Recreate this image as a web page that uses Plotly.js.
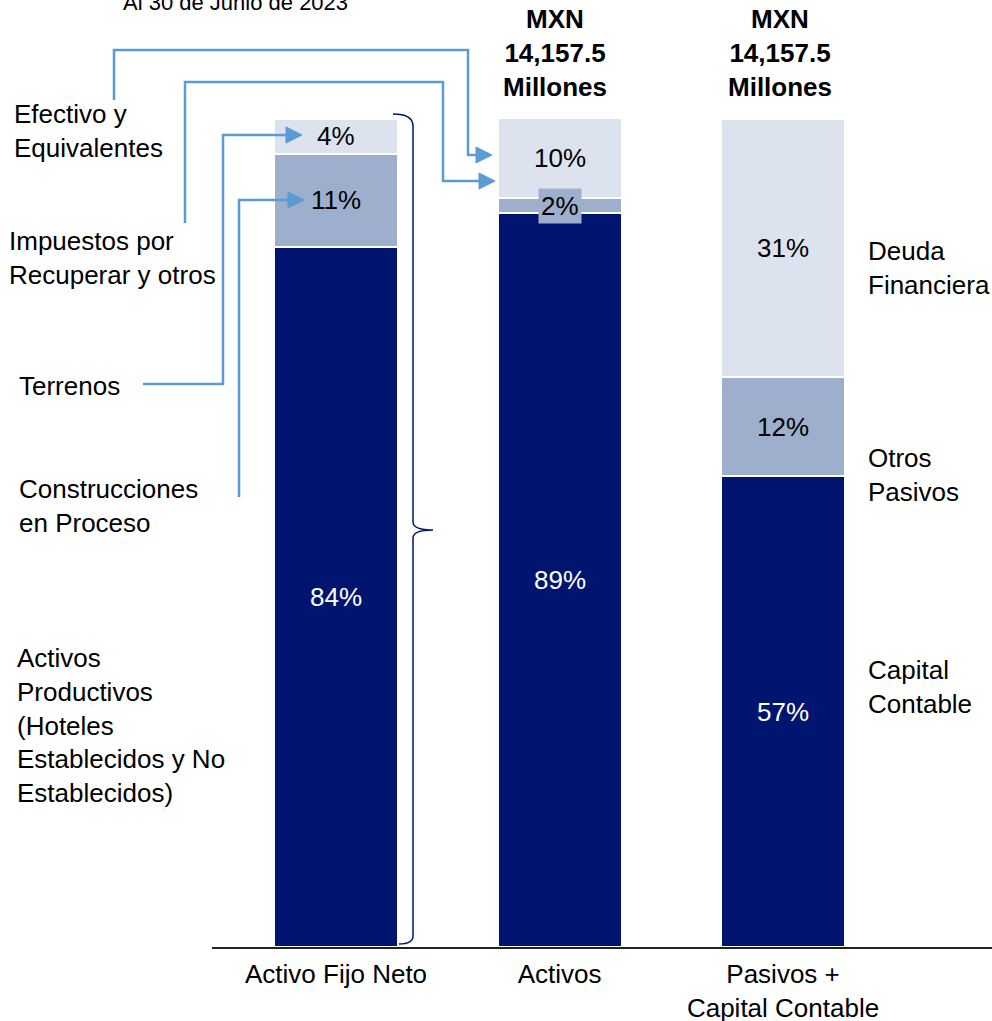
<!DOCTYPE html>
<html>
<head>
<meta charset="utf-8">
<script src="https://cdn.plot.ly/plotly-3.0.1.min.js"></script>
<style>html,body{margin:0;padding:0;background:#fff;}#chart{width:992px;height:1021px;}</style>
</head>
<body>
<div id="chart"></div>
<script>
// ---- data ----
const categories = ['Activo Fijo Neto', 'Activos', 'Pasivos + Capital Contable'];
const tickLabels = ['Activo Fijo Neto', 'Activos', 'Pasivos +<br>Capital Contable'];
const bottomVals = [84.4, 88.5, 56.8];
const middleVals = [11.3, 1.8, 11.9];
const topVals = [4.2, 9.7, 31.2];
const bottomLabels = ['84%', '89%', '57%'];
const middleLabels = ['11%', '2%', '12%'];
const topLabels = ['4%', '10%', '31%'];
const headerText = ['', 'MXN<br>14,157.5<br>Millones', 'MXN<br>14,157.5<br>Millones'];
const titleText = 'Al 30 de Junio de 2023';
const leftLabels = ['Efectivo y<br>Equivalentes', 'Impuestos por<br>Recuperar y otros', 'Terrenos',
  'Construcciones<br>en Proceso', 'Activos<br>Productivos<br>(Hoteles<br>Establecidos y No<br>Establecidos)'];
const rightLabels = ['Deuda<br>Financiera', 'Otros<br>Pasivos', 'Capital<br>Contable'];

// ---- styling ----
const FONT = '"Liberation Sans", Arial, sans-serif';
const NAVY = '#001470', MID = '#9dafcc', LIGHT = '#dde3ee', BLUE = '#5b9bd5';
const L = 212, T = 118, W = 780, H = 829;
const px = p => (p - L) / W;
const py = p => (T + H - p) / H;
const pt = (x, y) => px(x).toFixed(5) + ',' + py(y).toFixed(5);
const poly = pts => 'M ' + pts.map(p => pt(p[0], p[1])).join(' L ');

function bar(vals, color) {
  return {type: 'bar', x: categories, y: vals, marker: {color: color, line: {color: '#fff', width: 2}},
    hoverinfo: 'skip', showlegend: false};
}
const data = [bar(bottomVals, NAVY), bar(middleVals, MID), bar(topVals, LIGHT)];

const headerShift = [0, -5, -3];
const annotations = [];
categories.forEach((c, i) => {
  const b = bottomVals[i], m = middleVals[i], t = topVals[i];
  annotations.push({x: c, y: b / 2, xref: 'x', yref: 'y', text: bottomLabels[i], showarrow: false,
    font: {family: FONT, size: 26, color: '#fff'}});
  const midAnn = {x: c, y: b + m / 2, xref: 'x', yref: 'y', text: middleLabels[i], showarrow: false,
    font: {family: FONT, size: 26, color: '#000'}};
  if (m < 5) { midAnn.bgcolor = MID; midAnn.borderpad = 2; }
  annotations.push(midAnn);
  annotations.push({x: c, y: b + m + t / 2, xref: 'x', yref: 'y', text: topLabels[i], showarrow: false,
    font: {family: FONT, size: 26, color: '#000'}});
  if (headerText[i]) {
    annotations.push({x: c, y: py(53), xref: 'x', yref: 'paper', text: '<b>' + headerText[i] + '</b>',
      showarrow: false, xshift: headerShift[i], yanchor: 'middle', font: {family: FONT, size: 26, color: '#000'}});
  }
});
annotations.push({x: px(235), y: py(2), xref: 'paper', yref: 'paper', text: titleText, showarrow: false,
  xanchor: 'center', yanchor: 'middle', font: {family: FONT, size: 22, color: '#000'}});

const leftPos = [[12, 131], [7, 258], [17, 386], [17, 506], [15, 725]];
leftLabels.forEach((t, i) => annotations.push({x: px(leftPos[i][0]), y: py(leftPos[i][1]), xref: 'paper', yref: 'paper',
  text: t, showarrow: false, xanchor: 'left', yanchor: 'middle', align: 'left', font: {family: FONT, size: 26, color: '#000'}}));
const rightPos = [[866, 268], [866, 475], [866, 687]];
rightLabels.forEach((t, i) => annotations.push({x: px(rightPos[i][0]), y: py(rightPos[i][1]), xref: 'paper', yref: 'paper',
  text: t, showarrow: false, xanchor: 'left', yanchor: 'middle', align: 'left', font: {family: FONT, size: 26, color: '#000'}}));

// connectors
const lines = [
  [[114, 100], [114, 50], [468, 50], [468, 155], [478, 155]],
  [[185, 223], [185, 82], [443, 82], [443, 181], [481, 181]],
  [[143, 384], [223, 384], [223, 135], [288, 135]],
  [[239, 497], [239, 200], [290, 200]]
];
const heads = [[476, 155], [479, 181], [286, 135], [288, 200]];
const shapes = [];
lines.forEach(l => shapes.push({type: 'path', xref: 'paper', yref: 'paper', path: poly(l),
  line: {color: BLUE, width: 2.5}}));
heads.forEach(h => shapes.push({type: 'path', xref: 'paper', yref: 'paper',
  path: poly([[h[0], h[1] - 8], [h[0] + 16, h[1]], [h[0], h[1] + 8]]) + ' Z',
  fillcolor: BLUE, line: {color: BLUE, width: 1}}));
// brace
const brace = 'M ' + pt(393, 114) + ' Q ' + pt(413, 114) + ' ' + pt(413, 126) + ' L ' + pt(413, 522) +
  ' Q ' + pt(413, 530) + ' ' + pt(433, 530) + ' Q ' + pt(413, 530) + ' ' + pt(413, 538) +
  ' L ' + pt(413, 936) + ' Q ' + pt(413, 944) + ' ' + pt(399, 944);
shapes.push({type: 'path', xref: 'paper', yref: 'paper', path: brace, line: {color: NAVY, width: 1.5}});

const layout = {
  width: 992, height: 1021,
  margin: {l: L, r: 992 - L - W, t: T, b: 1021 - T - H, pad: 0},
  paper_bgcolor: '#fff', plot_bgcolor: '#fff',
  barmode: 'stack', bargap: 0.445,
  showlegend: false,
  xaxis: {type: 'category', range: [-0.555, 2.935], tickvals: categories, ticktext: tickLabels,
    showline: true, linecolor: '#222', linewidth: 2, ticks: '', showgrid: false, zeroline: false,
    tickfont: {family: FONT, size: 26, color: '#000'}, ticklabelstandoff: 3, fixedrange: true},
  yaxis: {range: [0, 100], visible: false, showgrid: false, zeroline: false, fixedrange: true},
  annotations: annotations,
  shapes: shapes,
  font: {family: FONT}
};
Plotly.newPlot('chart', data, layout, {displayModeBar: false, staticPlot: true});
</script>
</body>
</html>
